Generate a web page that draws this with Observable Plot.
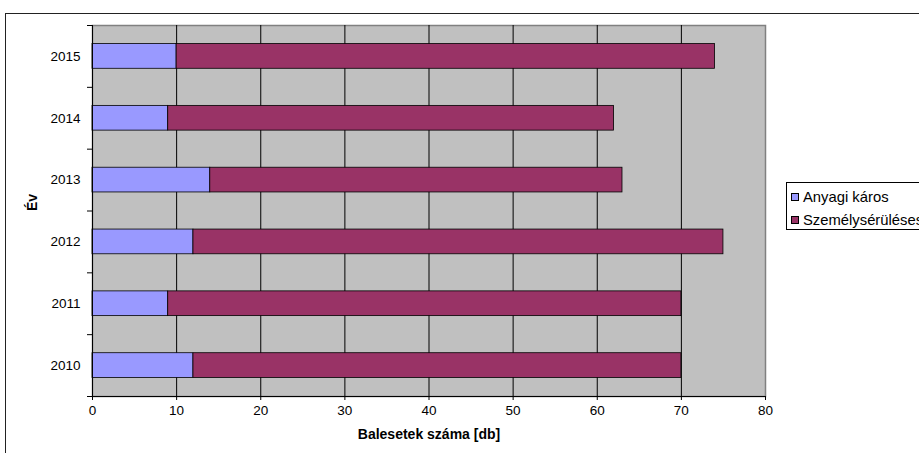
<!DOCTYPE html>
<html>
<head>
<meta charset="utf-8">
<script src="https://cdn.jsdelivr.net/npm/d3@7"></script>
<script src="https://cdn.jsdelivr.net/npm/@observablehq/plot@0.6"></script>
<style>
  html, body { margin: 0; padding: 0; background: #fff; }
  #wrap { position: relative; width: 919px; height: 453px; overflow: hidden; font-family: "Liberation Sans", Arial, sans-serif; }
  #outer { position: absolute; left: 5px; top: 13px; width: 1000px; height: 1000px; border: 1px solid #222; box-sizing: border-box; pointer-events: none; }
  #chart { position: absolute; left: 0; top: 0; }
  #legend { position: absolute; left: 786px; top: 182px; width: 160px; height: 48px; border: 1px solid #000; background: #fff; box-sizing: border-box; font-size: 14.8px; }
  .item { position: absolute; left: 4px; height: 16px; line-height: 16px; white-space: nowrap; }
  .sw { display: inline-block; width: 6px; height: 6px; border: 1px solid #000; margin-right: 4px; vertical-align: 1px; }
</style>
</head>
<body>
<div id="wrap">
  <div id="chart"></div>
  <div id="outer"></div>
  <div id="legend"></div>
</div>
<script>
const years = [2010, 2011, 2012, 2013, 2014, 2015];
const anyagi = [12, 9, 12, 14, 9, 10];
const szemely = [58, 61, 63, 49, 53, 64];
const seriesNames = ["Anyagi káros", "Személysérüléses"];
const seriesColors = ["#9999FF", "#993366"];
const xTicks = [0, 10, 20, 30, 40, 50, 60, 70, 80];
const xTitle = "Balesetek száma [db]";
const yTitle = "Év";

const rows = years.flatMap((y, i) => [
  {year: y, type: seriesNames[0], x1: 0, x2: anyagi[i]},
  {year: y, type: seriesNames[1], x1: anyagi[i], x2: anyagi[i] + szemely[i]}
]);
const bounds = [years[0] - 0.5, ...years.map(y => y + 0.5)];

const chart = Plot.plot({
  width: 919,
  height: 453,
  marginLeft: 92,
  marginRight: 154,
  marginTop: 25,
  marginBottom: 57,
  style: {fontFamily: "'Liberation Sans', Arial, sans-serif", fontSize: "13.5px", background: "transparent", color: "#000"},
  x: {domain: [0, 80], label: null},
  y: {domain: [bounds[0], bounds[bounds.length - 1]], label: null},
  color: {domain: seriesNames, range: seriesColors},
  marks: [
    Plot.frame({fill: "#C0C0C0", stroke: "#808080", strokeWidth: 1.5}),
    Plot.ruleX(xTicks.slice(1, -1), {stroke: "#000", strokeWidth: 1}),
    Plot.rect(rows, {x1: "x1", x2: "x2", y1: d => d.year - 0.2, y2: d => d.year + 0.2, fill: "type", stroke: "#000", strokeWidth: 0.8}),
    Plot.ruleX([0], {stroke: "#000", strokeWidth: 1}),
    Plot.ruleY([bounds[0]], {stroke: "#000", strokeWidth: 1}),
    Plot.axisX({ticks: xTicks, tickSize: 4, tickPadding: 5, label: null, fontSize: 13.5, stroke: "#000"}),
    Plot.axisY({ticks: years, tickSize: 0, tickPadding: 12, tickFormat: d => String(d), label: null, fontSize: 13.5}),
    Plot.axisY({ticks: bounds, tickSize: 5, tickFormat: () => "", label: null, stroke: "#000"}),
    Plot.text([xTitle], {text: d => d, frameAnchor: "bottom", dy: 42, fontWeight: "bold", fontSize: 14}),
    Plot.text([yTitle], {text: d => d, frameAnchor: "left", dx: -60, rotate: -90, fontWeight: "bold", fontSize: 14})
  ]
});
document.getElementById("chart").appendChild(chart);

const legend = document.getElementById("legend");
seriesNames.forEach((name, i) => {
  const it = document.createElement("div");
  it.className = "item";
  it.style.top = (6 + i * 23) + "px";
  const sw = document.createElement("span");
  sw.className = "sw";
  sw.style.background = seriesColors[i];
  it.appendChild(sw);
  it.appendChild(document.createTextNode(name));
  legend.appendChild(it);
});
</script>
</body>
</html>
